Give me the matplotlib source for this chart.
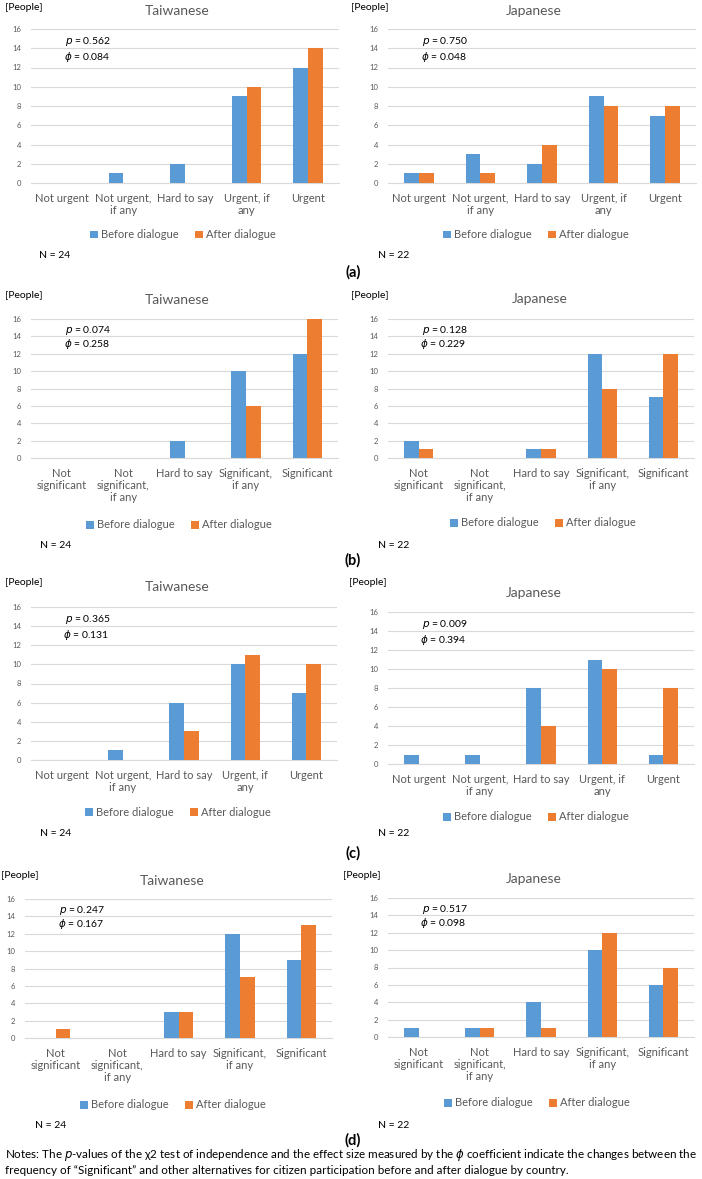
import numpy as np
import matplotlib
matplotlib.use("Agg")
import matplotlib.pyplot as plt

plt.rcParams['font.family'] = ['Lato', 'DejaVu Sans']
plt.rcParams['mathtext.fontset'] = 'dejavusans'

# ---------------- DATA ----------------
urgent_labels = ["Not urgent", "Not urgent,\nif any", "Hard to say", "Urgent, if\nany", "Urgent"]
signif_labels = ["Not\nsignificant", "Not\nsignificant,\nif any", "Hard to say",
                 "Significant,\nif any", "Significant"]

a_tw_before = [0, 1, 2, 9, 12]
a_tw_after = [0, 0, 0, 10, 14]
a_jp_before = [1, 3, 2, 9, 7]
a_jp_after = [1, 1, 4, 8, 8]

b_tw_before = [0, 0, 2, 10, 12]
b_tw_after = [0, 0, 0, 6, 16]
b_jp_before = [2, 0, 1, 12, 7]
b_jp_after = [1, 0, 1, 8, 12]

c_tw_before = [0, 1, 6, 10, 7]
c_tw_after = [0, 0, 3, 11, 10]
c_jp_before = [1, 1, 8, 11, 1]
c_jp_after = [0, 0, 4, 10, 8]

d_tw_before = [0, 0, 3, 12, 9]
d_tw_after = [1, 0, 3, 7, 13]
d_jp_before = [1, 1, 4, 10, 6]
d_jp_after = [0, 1, 1, 12, 8]

p_values = ["0.562", "0.750", "0.074", "0.128", "0.365", "0.009", "0.247", "0.517"]
phi_values = ["0.084", "0.048", "0.258", "0.229", "0.131", "0.394", "0.167", "0.098"]
countries = ["Taiwanese", "Japanese"]
n_sizes = ["N = 24", "N = 22"]
panel_tags = ["(a)", "(b)", "(c)", "(d)"]

BLUE = "#5B9BD5"
ORANGE = "#ED7D31"
GREY = "#595959"
GRID = "#d9d9d9"

W, H = 702, 1179
fig = plt.figure(figsize=(W / 100, H / 100), dpi=100)


def fx(x):
    return x / W


def fy(y):
    return 1 - y / H


panels = [
    (urgent_labels, a_tw_before, a_tw_after),
    (urgent_labels, a_jp_before, a_jp_after),
    (signif_labels, b_tw_before, b_tw_after),
    (signif_labels, b_jp_before, b_jp_after),
    (urgent_labels, c_tw_before, c_tw_after),
    (urgent_labels, c_jp_before, c_jp_after),
    (signif_labels, d_tw_before, d_tw_after),
    (signif_labels, d_jp_before, d_jp_after),
]

# ---------------- LAYOUT (pixels) ----------------
# plot area: left, right, top, bottom
boxes = [(31, 339, 29, 183), (388, 696, 29, 183),
         (31, 338, 319, 458), (388, 694, 319, 458),
         (31, 337, 607, 760), (388, 694, 612, 764),
         (25, 332, 899, 1038), (388, 694, 898, 1037)]
people_pos = [(5, 7), (351, 7), (5, 296), (351, 296),
              (5, 582), (349, 582), (1, 875), (343, 875)]
title_pos = [(177, 11), (534, 11), (177, 300), (540, 299),
             (177, 587), (534, 593), (172, 881), (534, 879)]
legend_pos = [(183, 235), (536, 235), (179, 525), (543, 523),
              (178, 812), (536, 817), (173, 1105), (537, 1103)]
n_pos = [(39, 256), (378, 256), (40, 545), (378, 545),
         (40, 833), (378, 833), (35, 1125), (378, 1125)]
tag_pos = [(353, 272), (353, 560), (353, 853), (353, 1140)]

x = np.arange(5)
bw = 0.24

for i, (labels, before, after) in enumerate(panels):
    l, r, t, b = boxes[i]
    ax = fig.add_axes([fx(l), fy(b), fx(r - l), (b - t) / H])
    ax.bar(x - bw / 2, before, bw, color=BLUE, label="Before dialogue", zorder=3)
    ax.bar(x + bw / 2, after, bw, color=ORANGE, label="After dialogue", zorder=3)
    ax.set_xlim(-0.5, 4.5)
    ax.set_ylim(0, 16)
    ax.set_yticks(range(0, 17, 2))
    ax.grid(axis="y", color=GRID, linewidth=0.8, zorder=0)
    for s in ["top", "right", "left"]:
        ax.spines[s].set_visible(False)
    ax.spines["bottom"].set_color(GRID)
    ax.spines["bottom"].set_linewidth(0.8)
    ax.set_xticks(x)
    ax.set_xticklabels(labels, fontsize=8, color=GREY, linespacing=1.15)
    ax.tick_params(axis="x", length=0, pad=7)
    ax.tick_params(axis="y", length=0, pad=7, labelsize=5.5, labelcolor=GREY)

    # p-value and phi annotation
    ax.text(0.05, 14.7, "$p$ = " + p_values[i], fontsize=7.5, va="center")
    ax.text(0.03, 13.1, r"$\phi$ = " + phi_values[i], fontsize=7.5, va="center")

    ax.legend(loc="center", bbox_to_anchor=(fx(legend_pos[i][0]), fy(legend_pos[i][1])),
              bbox_transform=fig.transFigure, ncol=2, frameon=False, fontsize=8,
              handlelength=0.7, handleheight=0.7, handletextpad=0.3,
              columnspacing=1.5, labelcolor=GREY, borderpad=0)

    fig.text(fx(people_pos[i][0]), fy(people_pos[i][1]), "[People]", fontsize=7.5,
             va="center", ha="left")
    fig.text(fx(title_pos[i][0]), fy(title_pos[i][1]), countries[i % 2], fontsize=10,
             color=GREY, va="center", ha="center")
    fig.text(fx(n_pos[i][0]), fy(n_pos[i][1]), n_sizes[i % 2], fontsize=7.5,
             va="center", ha="left")

for k, tag in enumerate(panel_tags):
    fig.text(fx(tag_pos[k][0]), fy(tag_pos[k][1]), tag, fontsize=10.5, fontweight="bold",
             va="center", ha="center")

fig.text(fx(5), fy(1155),
         "Notes: The $p$-values of the \u03c72 test of independence and the effect size measured "
         r"by the $\phi$ coefficient indicate the changes between the",
         fontsize=8.4, va="center", ha="left")
fig.text(fx(5), fy(1170),
         "frequency of \u201cSignificant\u201d and other alternatives for citizen participation "
         "before and after dialogue by country.",
         fontsize=8.4, va="center", ha="left")

fig.savefig("out.png", dpi=100)
